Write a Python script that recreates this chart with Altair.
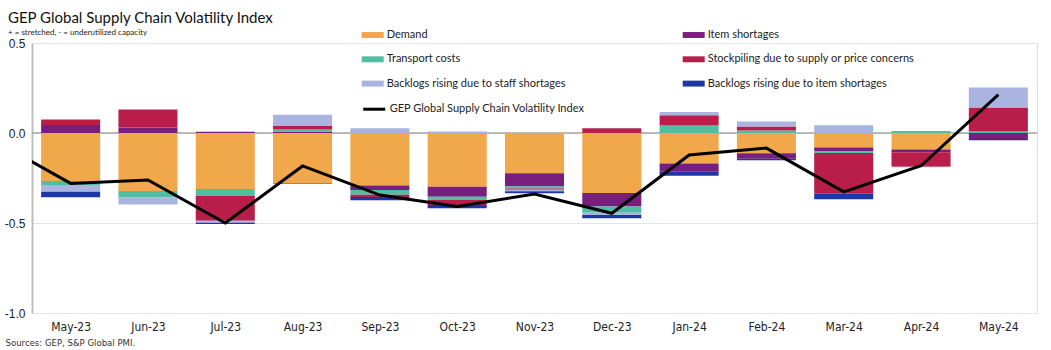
import altair as alt
import pandas as pd

# ---------------- data ----------------
months = ["May-23", "Jun-23", "Jul-23", "Aug-23", "Sep-23", "Oct-23", "Nov-23",
          "Dec-23", "Jan-24", "Feb-24", "Mar-24", "Apr-24", "May-24"]

demand = [-0.267, -0.322, -0.311, -0.280, -0.292, -0.299, -0.223, -0.334, -0.169, -0.113, -0.080, -0.092, 0.000]
item_shortages = [0.044, 0.031, 0.007, 0.008, -0.025, -0.055, -0.074, -0.074, -0.046, -0.030, -0.023, -0.015, -0.033]
transport_costs = [-0.022, -0.036, -0.037, 0.011, -0.026, -0.018, -0.011, -0.035, 0.041, 0.014, -0.008, 0.011, 0.009]
stockpiling = [0.031, 0.100, -0.139, 0.020, -0.012, -0.028, -0.007, 0.027, 0.057, 0.022, -0.227, -0.080, 0.132]
staff_backlogs = [-0.037, -0.039, -0.012, 0.063, 0.027, 0.008, -0.009, -0.013, 0.018, 0.028, 0.043, -0.003, 0.112]
item_backlogs = [-0.031, 0.000, -0.006, -0.003, -0.019, -0.018, -0.011, -0.017, -0.023, -0.008, -0.030, 0.000, -0.007]

index_months = ["Apr-23"] + months
index_values = [-0.040, -0.280, -0.261, -0.500, -0.183, -0.345, -0.408, -0.339,
                -0.446, -0.122, -0.084, -0.327, -0.182, 0.213]

series_names = ["Demand", "Item shortages", "Transport costs",
                "Stockpiling due to supply or price concerns",
                "Backlogs rising due to staff shortages",
                "Backlogs rising due to item shortages"]
series_values = [demand, item_shortages, transport_costs, stockpiling,
                 staff_backlogs, item_backlogs]
series_colors = ["#F1A84A", "#781E7D", "#50BEA0", "#B91E4B", "#AAB4E1", "#1E37A5"]
index_name = "GEP Global Supply Chain Volatility Index"

rows = []
for s_i, (name, vals) in enumerate(zip(series_names, series_values)):
    for m_i, (m, v) in enumerate(zip(months, vals)):
        rows.append({"month": m, "i": m_i, "series": name, "order": s_i, "value": v})
bars_df = pd.DataFrame(rows)

line_df = pd.DataFrame({
    "month": index_months,
    "i": list(range(-1, len(months))),
    "value": index_values,
    "name": [index_name] * len(index_months),
})

label_expr = "[" + ",".join("'%s'" % m for m in months) + "][datum.value]"

NARROW = "Liberation Sans Narrow, DejaVu Sans Condensed, sans-serif"
LEG_FONT = "Lato"

x_scale = alt.Scale(domain=[-0.5, len(months) - 0.5], nice=False, zero=False)
y_scale = alt.Scale(domain=[-1.0, 0.5], nice=False, zero=False)

x_axis = alt.Axis(values=list(range(len(months))), labelExpr=label_expr,
                  grid=False, domain=False, ticks=False, labelPadding=8,
                  labelFont=NARROW, labelFontSize=12, labelColor="#222222",
                  title="Sources: GEP, S&P Global PMI.", titleX=-27, titleY=32,
                  titleAlign="left", titleBaseline="alphabetic",
                  titleFont=NARROW, titleFontSize=9.5, titleFontWeight="normal",
                  titleColor="#333333")

y_axis = alt.Axis(values=[-1.0, -0.5, 0.0, 0.5],
                  labelExpr="datum.value < 0 ? '-' + format(-datum.value, '.1f') : format(datum.value, '.1f')",
                  grid=True, gridColor="#E4E4E4", gridWidth=1,
                  domain=True, domainColor="#BFBFBF", domainWidth=2,
                  ticks=False, labelPadding=7, labelFont="Liberation Sans",
                  labelFontSize=12, labelColor="#222222", title=None)

zero_rule = alt.Chart(pd.DataFrame({"y": [0.0]})).mark_rule(
    color="#A6A6A6", strokeWidth=1.5).encode(
    y=alt.Y("y:Q", scale=y_scale, axis=y_axis))

bars = alt.Chart(bars_df).transform_stack(
    stack="value", groupby=["i"], as_=["y0", "y1"],
    sort=[{"field": "order", "order": "ascending"}]
).transform_calculate(
    xa="datum.i - 0.382", xb="datum.i + 0.382"
).mark_rect().encode(
    x=alt.X("xa:Q", scale=x_scale, axis=x_axis),
    x2="xb:Q",
    y=alt.Y("y0:Q", scale=y_scale),
    y2="y1:Q",
    fill=alt.Fill("series:N",
                  scale=alt.Scale(domain=series_names, range=series_colors),
                  legend=alt.Legend(title=None, orient="none", legendX=329.7, legendY=-19,
                                    direction="horizontal",
                                    columns=2, columnPadding=116, rowPadding=8.3,
                                    symbolType="M-1,-0.27H1V0.27H-1Z", symbolSize=484,
                                    symbolStrokeWidth=0, labelFont=LEG_FONT,
                                    labelFontSize=11, labelColor="#222222",
                                    labelOffset=3, labelLimit=400, padding=0)),
)

line = alt.Chart(line_df).mark_line(clip=True, strokeWidth=3).encode(
    x=alt.X("i:Q", scale=x_scale),
    y=alt.Y("value:Q", scale=y_scale),
    stroke=alt.Stroke("name:N", scale=alt.Scale(domain=[index_name], range=["#000000"]),
                      legend=alt.Legend(title=None, orient="none", legendX=329.7, legendY=53.7,
                                        symbolType="stroke", symbolSize=484,
                                        symbolStrokeWidth=3, labelFont=LEG_FONT,
                                        labelFontSize=11, labelColor="#222222",
                                        labelOffset=3, labelLimit=400, padding=0)),
)

chart = alt.layer(zero_rule, bars, line).properties(
    width=1005, height=270,
    autosize=alt.AutoSizeParams(type="none"),
    padding={"left": 32, "top": 43, "right": 14, "bottom": 37},
    title=alt.TitleParams(text="GEP Global Supply Chain Volatility Index",
                          subtitle="+ = stretched, - = underutilized capacity",
                          anchor="start", frame="group", dx=-24, dy=21, offset=8,
                          font=LEG_FONT, fontSize=15, fontWeight="normal", color="#111111",
                          subtitleFont=LEG_FONT, subtitleFontSize=8, subtitleColor="#222222",
                          subtitlePadding=3),
).configure_view(stroke=None).configure(background="white")

chart.save("out.html", embed_options={"renderer": "svg", "actions": False})
